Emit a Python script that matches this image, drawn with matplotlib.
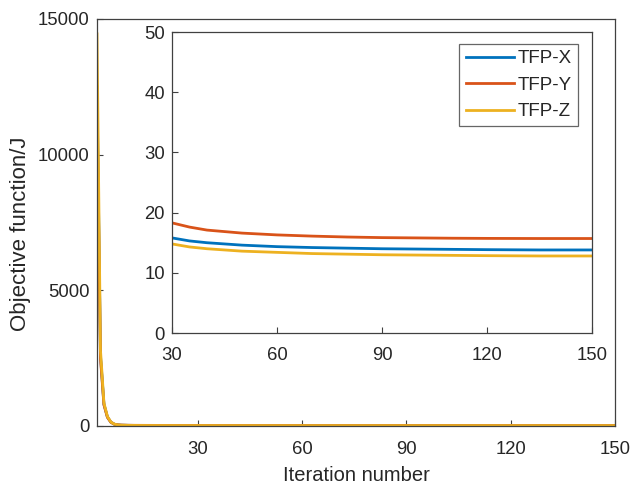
import matplotlib
matplotlib.use("Agg")
import matplotlib.pyplot as plt

plt.rcParams['font.family'] = ['Liberation Sans', 'DejaVu Sans']

iters = [1, 2, 3, 4, 5, 6, 7, 8, 10, 12, 15, 20, 25, 30, 35, 40, 50, 60, 70, 80, 90, 100, 110, 120, 135, 150]
tfp_x = [12500, 2600, 800, 330, 140, 65, 40, 30, 24, 21, 19.5, 18.2, 16.9, 15.8, 15.3, 15.0, 14.6, 14.35, 14.2, 14.1, 14.0, 13.95, 13.9, 13.85, 13.8, 13.8]
tfp_y = [11900, 2500, 780, 320, 135, 65, 42, 33, 27, 24, 22.5, 21.0, 19.5, 18.3, 17.6, 17.1, 16.6, 16.3, 16.1, 15.95, 15.85, 15.8, 15.75, 15.72, 15.7, 15.7]
tfp_z = [14450, 2800, 850, 350, 145, 68, 40, 29, 22, 19, 17.5, 16.3, 15.5, 14.8, 14.3, 14.0, 13.6, 13.4, 13.2, 13.1, 13.0, 12.95, 12.9, 12.85, 12.8, 12.8]

series = [("TFP-X", tfp_x, "#0072BD"), ("TFP-Y", tfp_y, "#D95319"), ("TFP-Z", tfp_z, "#EDB120")]

main_xticks = [30, 60, 90, 120, 150]
main_yticks = [0, 5000, 10000, 15000]
inset_xticks = [30, 60, 90, 120, 150]
inset_yticks = [0, 10, 20, 30, 40, 50]

axcol = "#404040"
txtcol = "#262626"
fig = plt.figure(figsize=(6.31, 4.86), dpi=100)
ax = fig.add_axes([0.1537, 0.1235, 0.8209, 0.8375])
for name, vals, c in series:
    ax.plot(iters, vals, color=c, lw=2.0)
ax.set_xlim(1, 150)
ax.set_ylim(0, 15000)
ax.set_xticks(main_xticks)
ax.set_yticks(main_yticks)
ax.set_xlabel("Iteration number", fontsize=14.5, color=txtcol)
ax.set_ylabel("Objective function/J", fontsize=16, color=txtcol)
ax.xaxis.set_label_coords(0.5, -0.099)
ax.yaxis.set_label_coords(-0.128, 0.473)

def style(a, xpad, ypad):
    a.tick_params(direction='in', length=4, width=0.8, colors=axcol, labelcolor=txtcol,
                  labelsize=13.3, top=False, right=False)
    a.tick_params(axis='x', pad=xpad)
    a.tick_params(axis='y', pad=ypad)
    for s in a.spines.values():
        s.set_color(axcol)
        s.set_linewidth(0.9)

style(ax, 10.5, 5.5)

ins = fig.add_axes([0.2726, 0.3148, 0.6656, 0.6192])
for name, vals, c in series:
    ins.plot(iters, vals, color=c, lw=2.0, label=name)
ins.set_xlim(30, 150)
ins.set_ylim(0, 50)
ins.set_xticks(inset_xticks)
ins.set_yticks(inset_yticks)
style(ins, 10, 5)
leg = ins.legend(loc='upper right', bbox_to_anchor=(578 / 631, 1 - 44 / 486),
                 bbox_transform=fig.transFigure, borderaxespad=0,
                 fontsize=13.5, frameon=True, fancybox=False,
                 edgecolor=axcol, handlelength=2.56, labelspacing=0.5,
                 handletextpad=0.22, borderpad=0.33)
leg.get_frame().set_linewidth(0.9)
for t in leg.get_texts():
    t.set_color(txtcol)

fig.savefig("out.png", dpi=100)
